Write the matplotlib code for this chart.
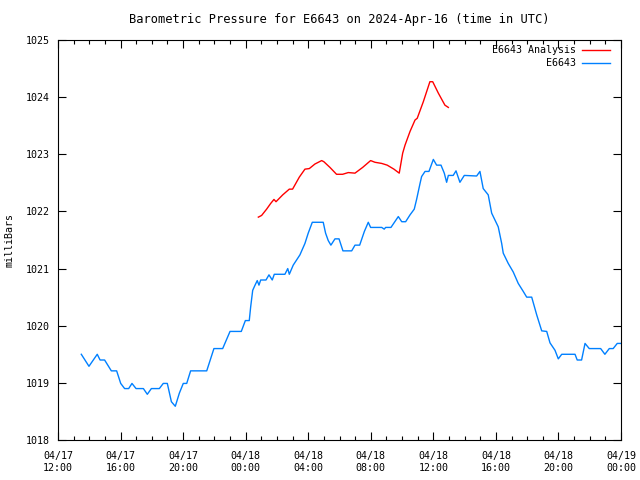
import matplotlib
matplotlib.use("Agg")
import matplotlib.pyplot as plt
from matplotlib.ticker import MultipleLocator

# hours since 04/17 12:00 UTC
obs_hours = [1.49, 1.98, 2.51, 2.69, 2.98, 3.41, 3.75, 4.01, 4.26, 4.52, 4.73, 4.99,
             5.46, 5.71, 5.97, 6.48, 6.73, 6.99, 7.25, 7.50, 7.76, 8.01, 8.23, 8.48,
             9.51, 9.97, 10.53, 11.0, 11.72, 11.98, 12.23, 12.32, 12.45, 12.6, 12.74,
             12.85, 12.96, 13.3, 13.49, 13.7, 13.83, 14.51, 14.69, 14.79, 15.04, 15.47,
             15.79, 16.0, 16.26, 16.96, 17.11, 17.28, 17.45, 17.71, 17.97, 18.22, 18.78,
             18.99, 19.29, 19.59, 19.84, 19.99, 20.7, 20.86, 20.95, 21.29, 21.76, 21.98,
             22.23, 22.51, 22.78, 22.93, 23.15, 23.25, 23.47, 23.72, 24.0, 24.21, 24.49,
             24.7, 24.85, 24.96, 25.27, 25.45, 25.70, 25.98, 26.77, 26.98, 27.19, 27.51,
             27.73, 28.15, 28.37, 28.47, 28.79, 29.11, 29.43, 29.75, 29.97, 30.29, 30.61,
             30.93, 31.25, 31.46, 31.78, 31.99, 32.21, 33.06, 33.2, 33.48, 33.7, 33.97,
             34.7, 34.97, 35.25, 35.5, 35.76, 35.98]
obs_mb = [1019.50, 1019.29, 1019.50, 1019.40, 1019.40, 1019.21, 1019.21, 1018.99, 1018.90,
          1018.90, 1018.99, 1018.90, 1018.90, 1018.80, 1018.90, 1018.90, 1018.99, 1018.99,
          1018.67, 1018.59, 1018.82, 1018.99, 1018.99, 1019.21, 1019.21, 1019.60, 1019.60,
          1019.90, 1019.90, 1020.09, 1020.09, 1020.33, 1020.62, 1020.71, 1020.79, 1020.71,
          1020.80, 1020.80, 1020.89, 1020.80, 1020.90, 1020.90, 1021.0, 1020.9, 1021.06,
          1021.24, 1021.44, 1021.62, 1021.81, 1021.81, 1021.62, 1021.49, 1021.41, 1021.52,
          1021.52, 1021.31, 1021.31, 1021.41, 1021.41, 1021.65, 1021.81, 1021.72, 1021.72,
          1021.69, 1021.72, 1021.72, 1021.91, 1021.82, 1021.82, 1021.94, 1022.04, 1022.21,
          1022.49, 1022.61, 1022.70, 1022.70, 1022.91, 1022.81, 1022.81, 1022.67, 1022.51,
          1022.63, 1022.63, 1022.71, 1022.51, 1022.63, 1022.62, 1022.70, 1022.40, 1022.29,
          1021.97, 1021.73, 1021.44, 1021.27, 1021.09, 1020.94, 1020.74, 1020.60, 1020.50,
          1020.50, 1020.19, 1019.91, 1019.90, 1019.70, 1019.57, 1019.42, 1019.50, 1019.50,
          1019.40, 1019.40, 1019.69, 1019.60, 1019.60, 1019.50, 1019.60, 1019.60, 1019.69,
          1019.69]

ana_hours = [12.81, 13.02, 13.34, 13.6, 13.81, 13.94, 14.37, 14.79, 15.0, 15.43, 15.79,
             16.07, 16.43, 16.86, 17.0, 17.39, 17.81, 18.2, 18.56, 18.99, 19.48, 19.99,
             20.27, 20.7, 21.05, 21.48, 21.82, 22.04, 22.19, 22.51, 22.83, 22.97, 23.36,
             23.78, 23.96, 24.32, 24.74, 24.96]
ana_mb = [1021.90, 1021.93, 1022.04, 1022.14, 1022.21, 1022.17, 1022.29, 1022.39, 1022.39,
          1022.60, 1022.74, 1022.75, 1022.83, 1022.89, 1022.87, 1022.77, 1022.65, 1022.65,
          1022.68, 1022.67, 1022.77, 1022.89, 1022.86, 1022.84, 1022.81, 1022.74, 1022.67,
          1023.02, 1023.16, 1023.40, 1023.60, 1023.63, 1023.92, 1024.27, 1024.27, 1024.07,
          1023.86, 1023.82]

tick_hours = [0, 4, 8, 12, 16, 20, 24, 28, 32, 36]
tick_labels = ["04/17\n12:00", "04/17\n16:00", "04/17\n20:00", "04/18\n00:00", "04/18\n04:00",
               "04/18\n08:00", "04/18\n12:00", "04/18\n16:00", "04/18\n20:00", "04/19\n00:00"]

plt.rcParams['font.family'] = 'DejaVu Sans Mono'
plt.rcParams['font.size'] = 7.2

fig = plt.figure(figsize=(6.4, 4.8), dpi=100)
ax = fig.add_axes([58/640, 40/480, 563/640, 400/480])

ax.plot(ana_hours, ana_mb, color='#ff0000', lw=1.0, label='E6643 Analysis')
ax.plot(obs_hours, obs_mb, color='#0080ff', lw=1.0, label='E6643')

ax.set_xlim(0, 36)
ax.set_ylim(1018, 1025)
ax.set_xticks(tick_hours)
ax.set_xticklabels(tick_labels)
ax.xaxis.set_minor_locator(MultipleLocator(1))
ax.yaxis.set_major_locator(MultipleLocator(1))
ax.yaxis.set_major_formatter(plt.FormatStrFormatter('%d'))
ax.tick_params(which='both', direction='in', top=True, right=True, width=0.8)
ax.tick_params(which='major', length=6, pad=6)
ax.tick_params(axis='x', which='major', pad=8)
ax.tick_params(which='minor', length=3)
for s in ax.spines.values():
    s.set_linewidth(0.8)

ax.set_ylabel('milliBars', labelpad=8)
ax.set_title('Barometric Pressure for E6643 on 2024-Apr-16 (time in UTC)', pad=12)
ax.legend(loc='upper right', bbox_to_anchor=(1.0, 1.015), frameon=False, markerfirst=False,
          handlelength=2.8, borderaxespad=0.7, labelspacing=0.35, handletextpad=0.6)

fig.savefig('out.png', dpi=100)
